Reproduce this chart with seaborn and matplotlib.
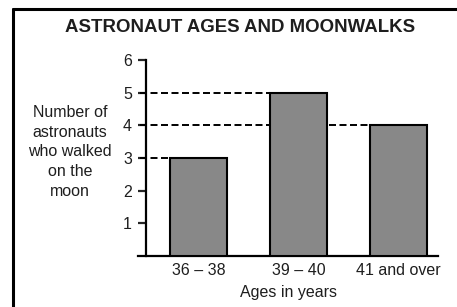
import matplotlib
matplotlib.use("Agg")
import matplotlib.pyplot as plt
import seaborn as sns
import pandas as pd
from matplotlib.lines import Line2D

# data
age_groups = ["36 – 38", "39 – 40", "41 and over"]
astronauts = [3, 5, 4]
y_ticks = [1, 2, 3, 4, 5, 6]

sns.set_style("white")
plt.rcParams["font.family"] = ["Liberation Sans", "DejaVu Sans"]
text_col = "#1e1e1e"

df = pd.DataFrame({"age": age_groups, "count": astronauts})

fig = plt.figure(figsize=(4.57, 3.07), dpi=100)
ax = fig.add_axes([138 / 457, 1 - 256 / 307, 300 / 457, 196 / 307])

bar_w = 0.57
sns.barplot(data=df, x="age", y="count", order=age_groups, color="#888888",
            saturation=1, edgecolor="black", linewidth=1.5, width=bar_w,
            ax=ax, zorder=3)

axis_x = -0.525
ax.set_xlim(-0.605, 2.395)
ax.set_ylim(0, 6)

# dashed guides from axis to each bar
for i, v in enumerate(astronauts):
    ax.hlines(v, axis_x - 0.06, i - bar_w / 2, colors="black", linewidth=1.4,
              linestyles=(0, (3.6, 1.8)), zorder=1)

for s in ["top", "right"]:
    ax.spines[s].set_visible(False)
ax.spines["left"].set_position(("data", axis_x))
ax.spines["left"].set_linewidth(1.6)
ax.spines["bottom"].set_linewidth(1.6)
ax.spines["left"].set_color("black")
ax.spines["bottom"].set_color("black")

ax.set_yticks(y_ticks)
ax.tick_params(axis="y", left=True, length=6, width=1.6, pad=4,
               labelsize=11.5, labelcolor=text_col)
ax.tick_params(axis="x", bottom=False, length=0, pad=5,
               labelsize=11.5, labelcolor=text_col)
ax.set_xlabel("Ages in years", fontsize=11.5, color=text_col, labelpad=5)
ax.set_ylabel("")

fig.text(70 / 457, 1 - 152 / 307, "Number of\nastronauts\nwho walked\non the\nmoon",
         ha="center", va="center", fontsize=11.5, color=text_col, linespacing=1.38)
fig.text(240 / 457, 1 - 27 / 307, "ASTRONAUT AGES AND MOONWALKS",
         ha="center", va="center", fontsize=13.4, fontweight="bold", color=text_col)

# frame around the figure (left and top only visible)
fig.add_artist(Line2D([13 / 457, 13 / 457], [0, 1 - 8.5 / 307], color="black",
                      linewidth=2.2, transform=fig.transFigure))
fig.add_artist(Line2D([13 / 457, 1], [1 - 8.5 / 307, 1 - 8.5 / 307], color="black",
                      linewidth=2.2, transform=fig.transFigure))

fig.savefig("out.png", dpi=100)
